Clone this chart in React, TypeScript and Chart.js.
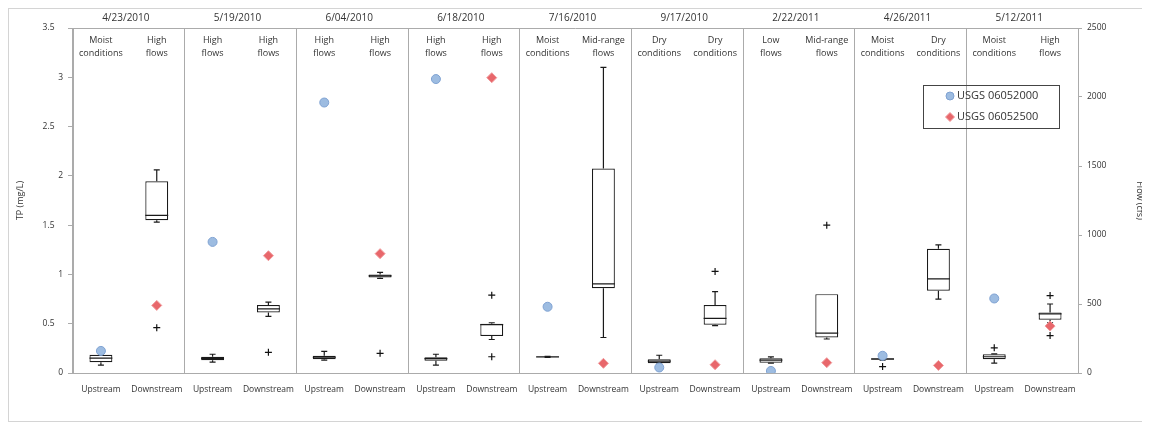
import { useEffect, useRef } from "react";
import { Chart, registerables } from "chart.js";

Chart.register(...registerables);

// Sampling events, each with an upstream and a downstream site
const sampleDates = [
  "4/23/2010", "5/19/2010", "6/04/2010", "6/18/2010", "7/16/2010",
  "9/17/2010", "2/22/2011", "4/26/2011", "5/12/2011",
];
const sites = ["Upstream", "Downstream"];

// Hydrologic condition noted for each site/event (two text lines)
const flowConditions: string[][] = [
  ["Moist", "conditions"], ["High", "flows"],
  ["High", "flows"], ["High", "flows"],
  ["High", "flows"], ["High", "flows"],
  ["High", "flows"], ["High", "flows"],
  ["Moist", "conditions"], ["Mid-range", "flows"],
  ["Dry", "conditions"], ["Dry", "conditions"],
  ["Low", "flows"], ["Mid-range", "flows"],
  ["Moist", "conditions"], ["Dry", "conditions"],
  ["Moist", "conditions"], ["High", "flows"],
];

// Total phosphorus box statistics (mg/L), one entry per site/event
const tpMin = [0.08, 1.53, 0.11, 0.575, 0.13, 0.96, 0.08, 0.34, 0.158, 0.36, 0.09, 0.48, 0.1, 0.345, 0.13, 0.75, 0.1, 0.51];
const tpQ1 = [0.11, 1.55, 0.13, 0.615, 0.14, 0.97, 0.125, 0.375, 0.16, 0.86, 0.1, 0.49, 0.105, 0.36, 0.135, 0.835, 0.14, 0.54];
const tpMedian = [0.15, 1.6, 0.148, 0.65, 0.16, 0.985, 0.145, 0.49, 0.163, 0.905, 0.12, 0.555, 0.13, 0.405, 0.142, 0.955, 0.165, 0.6];
const tpQ3 = [0.185, 1.945, 0.165, 0.69, 0.175, 1.0, 0.16, 0.5, 0.166, 2.075, 0.14, 0.69, 0.15, 0.8, 0.15, 1.26, 0.19, 0.615];
const tpMax = [0.195, 2.06, 0.19, 0.72, 0.22, 1.02, 0.19, 0.51, 0.168, 3.1, 0.18, 0.825, 0.163, 0.8, 0.155, 1.3, 0.195, 0.7];

// Outlying TP samples (mg/L)
const tpOutliersA = [null, 0.46, null, 0.21, null, 0.2, null, 0.79, null, null, null, 1.03, null, 1.5, null, null, 0.255, 0.785];
const tpOutliersB = [null, null, null, null, null, null, null, 0.165, null, null, null, null, null, null, 0.065, null, null, 0.38];

// Daily mean streamflow (cfs) at the two gages, one value per event
const flowUSGS06052000 = [160, 950, 1960, 2130, 480, 40, 15, 125, 540];
const flowUSGS06052500 = [490, 850, 865, 2140, 70, 60, 75, 55, 340];

const tpTickStep = 0.5;
const flowTickStep = 500;

const categories = sampleDates.flatMap(() => sites);
const upstreamFlow = categories.map((_, i) => (i % 2 === 0 ? flowUSGS06052000[i / 2] : null));
const downstreamFlow = categories.map((_, i) => (i % 2 === 1 ? flowUSGS06052500[(i - 1) / 2] : null));

const FONT = "'Open Sans', sans-serif";
const TEXT = "#333333";
const FRAME = "#ababab";

const boxWhiskers = {
  id: "boxWhiskers",
  afterDatasetDraw(chart: any, args: any) {
    if (args.meta.type !== "bar") return;
    const { ctx } = chart;
    const x = chart.scales.x;
    const y = chart.scales.y;
    ctx.save();
    ctx.strokeStyle = "#1a1a1a";
    ctx.lineWidth = 1.2;
    args.meta.data.forEach((bar: any, i: number) => {
      const cx = x.getPixelForValue(i);
      const half = bar.width / 2;
      const cap = 3;
      const yQ1 = y.getPixelForValue(tpQ1[i]);
      const yQ3 = y.getPixelForValue(tpQ3[i]);
      const yMed = y.getPixelForValue(tpMedian[i]);
      const yMin = y.getPixelForValue(tpMin[i]);
      const yMax = y.getPixelForValue(tpMax[i]);
      ctx.beginPath();
      if (tpMax[i] > tpQ3[i]) {
        ctx.moveTo(cx, yQ3);
        ctx.lineTo(cx, yMax);
        ctx.moveTo(cx - cap, yMax);
        ctx.lineTo(cx + cap, yMax);
      }
      if (tpMin[i] < tpQ1[i]) {
        ctx.moveTo(cx, yQ1);
        ctx.lineTo(cx, yMin);
        ctx.moveTo(cx - cap, yMin);
        ctx.lineTo(cx + cap, yMin);
      }
      ctx.moveTo(cx - half, yMed);
      ctx.lineTo(cx + half, yMed);
      ctx.stroke();
    });
    ctx.restore();
  },
};

const headerAndLegend = {
  id: "headerAndLegend",
  afterDraw(chart: any) {
    const { ctx, chartArea } = chart;
    const x = chart.scales.x;
    ctx.save();
    // top frame line of the plot area
    ctx.strokeStyle = FRAME;
    ctx.lineWidth = 1;
    ctx.beginPath();
    ctx.moveTo(chartArea.left, Math.round(chartArea.top) + 0.5);
    ctx.lineTo(chartArea.right, Math.round(chartArea.top) + 0.5);
    ctx.stroke();

    ctx.fillStyle = TEXT;
    ctx.textAlign = "center";
    ctx.textBaseline = "middle";
    ctx.font = `10px ${FONT}`;
    sampleDates.forEach((d, g) => {
      const cx = (x.getPixelForValue(2 * g) + x.getPixelForValue(2 * g + 1)) / 2;
      ctx.fillText(d, cx - 3, chartArea.top - 10);
    });
    ctx.font = `9px ${FONT}`;
    flowConditions.forEach((lines, i) => {
      const cx = x.getPixelForValue(i);
      lines.forEach((line, k) => ctx.fillText(line, cx, chartArea.top + 12 + k * 13));
    });

    // legend for the two gages
    const lx = chartArea.right - 155;
    const ly = chartArea.top + 57;
    ctx.strokeStyle = "#444444";
    ctx.lineWidth = 1;
    ctx.strokeRect(lx + 0.5, ly + 0.5, 136, 43);
    ctx.font = `11px ${FONT}`;
    ctx.textAlign = "left";
    [0, 1].forEach((k) => {
      const ds = chart.data.datasets[k];
      const my = ly + 11 + k * 21;
      const mx = lx + 27;
      ctx.fillStyle = ds.backgroundColor;
      ctx.strokeStyle = ds.borderColor;
      ctx.beginPath();
      if (ds.pointStyle === "rectRot") {
        const r = 4.5;
        ctx.moveTo(mx, my - r);
        ctx.lineTo(mx + r, my);
        ctx.lineTo(mx, my + r);
        ctx.lineTo(mx - r, my);
        ctx.closePath();
      } else {
        ctx.arc(mx, my, 4, 0, Math.PI * 2);
      }
      ctx.fill();
      ctx.stroke();
      ctx.fillStyle = TEXT;
      ctx.fillText(ds.label, mx + 7, my);
    });
    ctx.restore();
  },
};

export default function App() {
  const canvasRef = useRef<HTMLCanvasElement | null>(null);

  useEffect(() => {
    if (!canvasRef.current) return;
    const tickFont = { family: FONT, size: 8.5 };
    const chart = new Chart(canvasRef.current, {
      type: "bar",
      data: {
        labels: categories,
        datasets: [
          {
            type: "line",
            label: "USGS 06052000",
            data: upstreamFlow,
            yAxisID: "y2",
            showLine: false,
            pointStyle: "circle",
            pointRadius: 4.5,
            backgroundColor: "#9dbce1",
            borderColor: "#7fa2d2",
            borderWidth: 1,
          },
          {
            type: "line",
            label: "USGS 06052500",
            data: downstreamFlow,
            yAxisID: "y2",
            showLine: false,
            pointStyle: "rectRot",
            pointRadius: 5,
            backgroundColor: "#e8676b",
            borderColor: "#f09a9c",
            borderWidth: 1,
          },
          {
            type: "line",
            label: "Outliers",
            data: tpOutliersA,
            yAxisID: "y",
            showLine: false,
            pointStyle: "cross",
            pointRadius: 3.5,
            borderColor: "#111111",
            borderWidth: 1.2,
          },
          {
            type: "line",
            label: "Outliers",
            data: tpOutliersB,
            yAxisID: "y",
            showLine: false,
            pointStyle: "cross",
            pointRadius: 3.5,
            borderColor: "#111111",
            borderWidth: 1.2,
          },
          {
            type: "bar",
            label: "TP",
            data: tpQ1.map((q, i) => [q, tpQ3[i]]),
            yAxisID: "y",
            backgroundColor: "#ffffff",
            borderColor: "#1a1a1a",
            borderWidth: 1.2,
            borderSkipped: false,
            categoryPercentage: 1,
            barPercentage: 0.41,
          },
        ],
      },
      options: {
        responsive: false,
        animation: false,
        layout: { padding: { top: 19, left: 0, right: 0, bottom: 0 } },
        plugins: { legend: { display: false }, tooltip: { enabled: false } },
        scales: {
          x: {
            type: "category",
            offset: true,
            grid: {
              offset: true,
              drawTicks: false,
              color: (c: any) => (c.index === undefined || c.index % 2 === 0 ? FRAME : "rgba(0,0,0,0)"),
            },
            border: { display: true, color: FRAME },
            ticks: { font: tickFont, color: TEXT, padding: 11, maxRotation: 0, autoSkip: false },
            afterFit: (s: any) => {
              s.height = 47;
            },
          },
          y: {
            position: "left",
            min: 0,
            max: 3.5,
            ticks: {
              stepSize: tpTickStep,
              font: tickFont,
              color: TEXT,
              padding: 5,
              callback: (v: any) => (Number.isInteger(v) ? String(v) : String(v) + "\u2003"),
            },
            grid: { drawOnChartArea: false, drawTicks: true, tickLength: 5, color: FRAME },
            border: { display: true, color: FRAME },
            title: { display: true, text: "TP (mg/L)", font: { family: FONT, size: 9 }, color: TEXT, padding: { top: 6, bottom: 0 } },
            afterFit: (s: any) => {
              s.width = 64;
            },
          },
          y2: {
            position: "right",
            min: 0,
            max: 2500,
            ticks: {
              stepSize: flowTickStep,
              font: tickFont,
              color: TEXT,
              padding: 5,
              callback: (v: any) => String(v),
            },
            grid: { drawOnChartArea: false, drawTicks: true, tickLength: 4, color: FRAME },
            border: { display: true, color: FRAME },
            title: { display: true, text: "Flow (cfs)", font: { family: FONT, size: 9 }, color: TEXT, padding: { top: 3, bottom: 0 } },
            afterFit: (s: any) => {
              s.width = 70;
            },
          },
        },
      } as any,
      plugins: [boxWhiskers, headerAndLegend],
    });
    return () => chart.destroy();
  }, []);

  return (
    <div style={{ width: 1139, height: 412, border: "1px solid #d4d4d4", background: "#ffffff" }}>
      <canvas ref={canvasRef} width={1139} height={411} style={{ display: "block" }} />
    </div>
  );
}
